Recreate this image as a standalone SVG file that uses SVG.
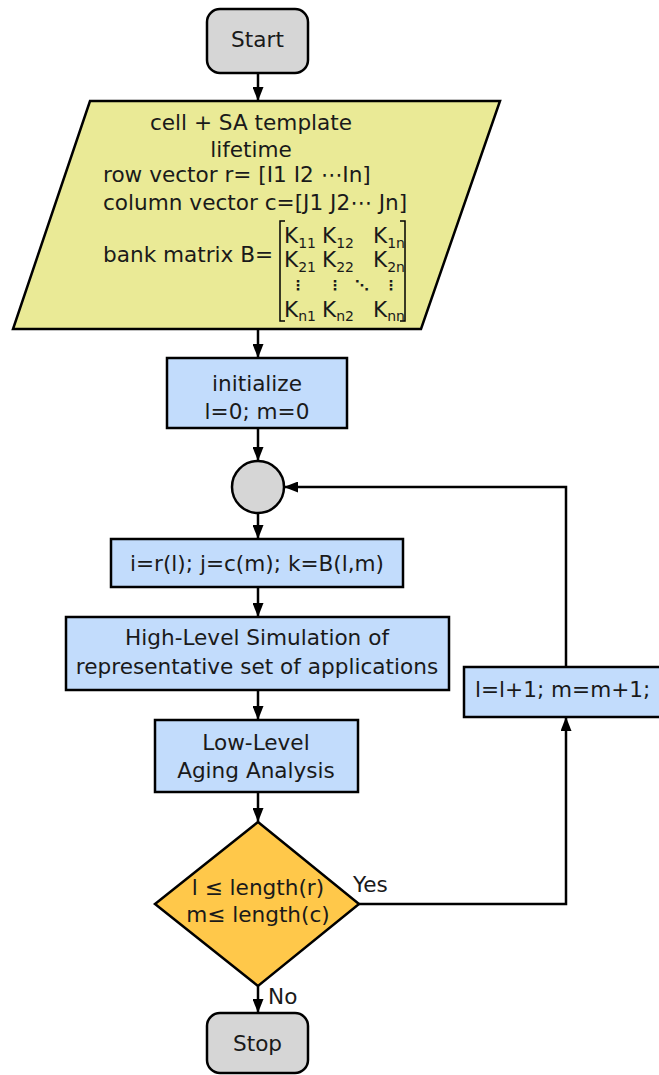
<svg xmlns="http://www.w3.org/2000/svg" width="659" height="1075" viewBox="0 0 659 1075">
<defs>
<style>
.n{stroke:#000;stroke-width:2.5}
.g{fill:#d6d6d6}
.b{fill:#c2dcfc}
.t{font-family:"DejaVu Sans",Verdana,sans-serif;font-size:21.6px;fill:#1a1a1a}
.c{text-anchor:middle}
.s{font-size:14px}
.d{font-size:14px;font-weight:bold}
.e{stroke:#000;stroke-width:2.5;fill:none}
.br{stroke:#000;stroke-width:1.5;fill:none}
</style>
<marker id="ah" viewBox="0 0 14 11" refX="14" refY="5.5" markerWidth="5.6" markerHeight="4.4" orient="auto" markerUnits="strokeWidth">
<path d="M0,0 L14,5.5 L0,11 z" fill="#000"/>
</marker>
</defs>
<rect width="659" height="1075" fill="#fff"/>
<g id="connectors">
<path class="e" d="M258,73 V101" marker-end="url(#ah)"/>
<path class="e" d="M258,329 V358" marker-end="url(#ah)"/>
<path class="e" d="M258,428 V461" marker-end="url(#ah)"/>
<path class="e" d="M258,513 V539" marker-end="url(#ah)"/>
<path class="e" d="M258,587 V617" marker-end="url(#ah)"/>
<path class="e" d="M258,690 V720" marker-end="url(#ah)"/>
<path class="e" d="M258,792 V822" marker-end="url(#ah)"/>
<path class="e" d="M258,986 V1013" marker-end="url(#ah)"/>
<path class="e" d="M359,904 H566 V717" marker-end="url(#ah)"/>
<path class="e" d="M566,667 V487 H284" marker-end="url(#ah)"/>
<text class="t" x="353" y="892">Yes</text>
<text class="t" x="268" y="1004">No</text>
</g>
<g id="start">
<rect class="n g" x="207" y="9" width="101" height="64" rx="13"/>
<text class="t c" x="257.5" y="47">Start</text>
</g>
<g id="input">
<polygon class="n" fill="#eaea96" points="90,101 500,101 421,329 13,329"/>
<text class="t c" x="251" y="130">cell + SA template</text>
<text class="t c" x="251" y="157">lifetime</text>
<text class="t" x="103" y="182">row vector r= [I1 I2 ⋯In]</text>
<text class="t" x="103" y="210">column vector c=[J1 J2⋯ Jn]</text>
<text class="t" x="103" y="262">bank matrix B=</text>
<path class="br" d="M285,221 H280 V321 H285"/>
<path class="br" d="M400,221 H405 V321 H400"/>
<text class="t" x="284" y="243">K<tspan class="s" dy="5">11</tspan></text>
<text class="t" x="322" y="243">K<tspan class="s" dy="5">12</tspan></text>
<text class="t" x="373" y="243">K<tspan class="s" dy="5">1n</tspan></text>
<text class="t" x="284" y="267">K<tspan class="s" dy="5">21</tspan></text>
<text class="t" x="322" y="267">K<tspan class="s" dy="5">22</tspan></text>
<text class="t" x="373" y="267">K<tspan class="s" dy="5">2n</tspan></text>
<text class="t d" x="291" y="290">⋮</text>
<text class="t d" x="328" y="290">⋮</text>
<text class="t d" x="355" y="290">⋱</text>
<text class="t d" x="384" y="290">⋮</text>
<text class="t" x="284" y="317">K<tspan class="s" dy="4">n1</tspan></text>
<text class="t" x="322" y="317">K<tspan class="s" dy="4">n2</tspan></text>
<text class="t" x="373" y="317">K<tspan class="s" dy="4">nn</tspan></text>
</g>
<g id="init">
<rect class="n b" x="167" y="358" width="180" height="70"/>
<text class="t c" x="257" y="391">initialize</text>
<text class="t c" x="257" y="419">l=0; m=0</text>
</g>
<g id="join">
<circle class="n g" cx="258" cy="487" r="26"/>
</g>
<g id="assign">
<rect class="n b" x="111" y="539" width="292" height="48"/>
<text class="t c" x="257" y="571">i=r(l); j=c(m); k=B(l,m)</text>
</g>
<g id="highlevel">
<rect class="n b" x="66" y="617" width="383" height="73"/>
<text class="t c" x="257" y="645">High-Level Simulation of</text>
<text class="t c" x="257" y="674">representative set of applications</text>
</g>
<g id="lowlevel">
<rect class="n b" x="155" y="720" width="203" height="72"/>
<text class="t c" x="256" y="750">Low-Level</text>
<text class="t c" x="256" y="778">Aging Analysis</text>
</g>
<g id="decision">
<polygon class="n" fill="#ffc84a" points="258,822 359,904 258,986 155,904"/>
<text class="t c" x="258" y="895">l ≤ length(r)</text>
<text class="t c" x="258" y="922">m≤ length(c)</text>
</g>
<g id="increment">
<rect class="n b" x="464" y="667" width="205" height="50"/>
<text class="t" x="475" y="697">l=l+1; m=m+1;</text>
</g>
<g id="stop">
<rect class="n g" x="207" y="1013" width="101" height="60" rx="13"/>
<text class="t c" x="257.5" y="1051">Stop</text>
</g>
</svg>
